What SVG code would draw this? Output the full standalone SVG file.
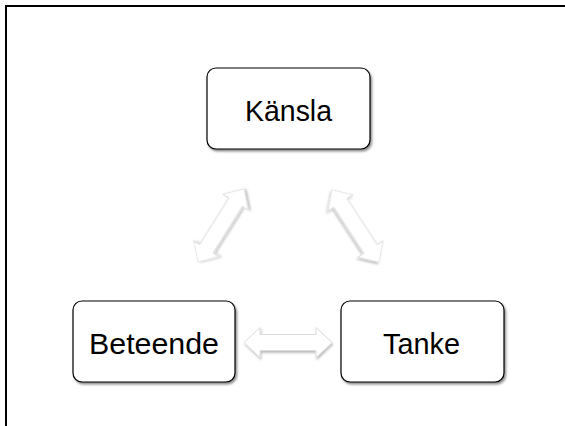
<svg xmlns="http://www.w3.org/2000/svg" xmlns:xlink="http://www.w3.org/1999/xlink" width="565" height="426" viewBox="0 0 565 426">
<style>
.box{fill:#ffffff;stroke:#000000;stroke-width:1.2;filter:url(#sh);}
.lbl{font-family:"Liberation Sans",Arial,sans-serif;font-size:29px;fill:#000000;text-anchor:middle;}
.arr{fill:#ffffff;stroke:#dcdcdc;stroke-width:1;filter:url(#ash);}
</style>
<defs>
<filter id="sh" x="-10%" y="-10%" width="130%" height="130%">
<feDropShadow dx="1.5" dy="2" stdDeviation="1.2" flood-color="#000000" flood-opacity="0.45"/>
</filter>
<filter id="ash" x="-20%" y="-40%" width="140%" height="180%">
<feDropShadow dx="1" dy="2" stdDeviation="1.2" flood-color="#000000" flood-opacity="0.25"/>
</filter>
<path id="dbl" d="M -44 0 L -28 -15 L -28 -8 L 28 -8 L 28 -15 L 44 0 L 28 15 L 28 8 L -28 8 L -28 15 Z"/>
</defs>
<rect x="0" y="0" width="565" height="426" fill="#ffffff"/>
<rect x="6" y="6" width="620" height="480" fill="none" stroke="#000000" stroke-width="2"/>
<g id="connectors">
<use xlink:href="#dbl" class="arr" transform="translate(221,225.5) rotate(-57.8) scale(0.98,1)"/>
<use xlink:href="#dbl" class="arr" transform="translate(355.5,226) rotate(56.9) scale(0.98,1)"/>
<use xlink:href="#dbl" class="arr" transform="translate(288,342.5)"/>
</g>
<g id="kansla">
<rect class="box" x="207" y="68" width="163" height="81" rx="9" ry="9"/>
<text class="lbl" x="288.5" y="121" textLength="87" lengthAdjust="spacingAndGlyphs">Känsla</text>
</g>
<g id="beteende">
<rect class="box" x="73" y="301" width="162" height="81" rx="9" ry="9"/>
<text class="lbl" x="154" y="354" textLength="130" lengthAdjust="spacingAndGlyphs">Beteende</text>
</g>
<g id="tanke">
<rect class="box" x="341" y="301" width="163" height="81" rx="9" ry="9"/>
<text class="lbl" x="421.5" y="354" textLength="77" lengthAdjust="spacingAndGlyphs">Tanke</text>
</g>
</svg>
